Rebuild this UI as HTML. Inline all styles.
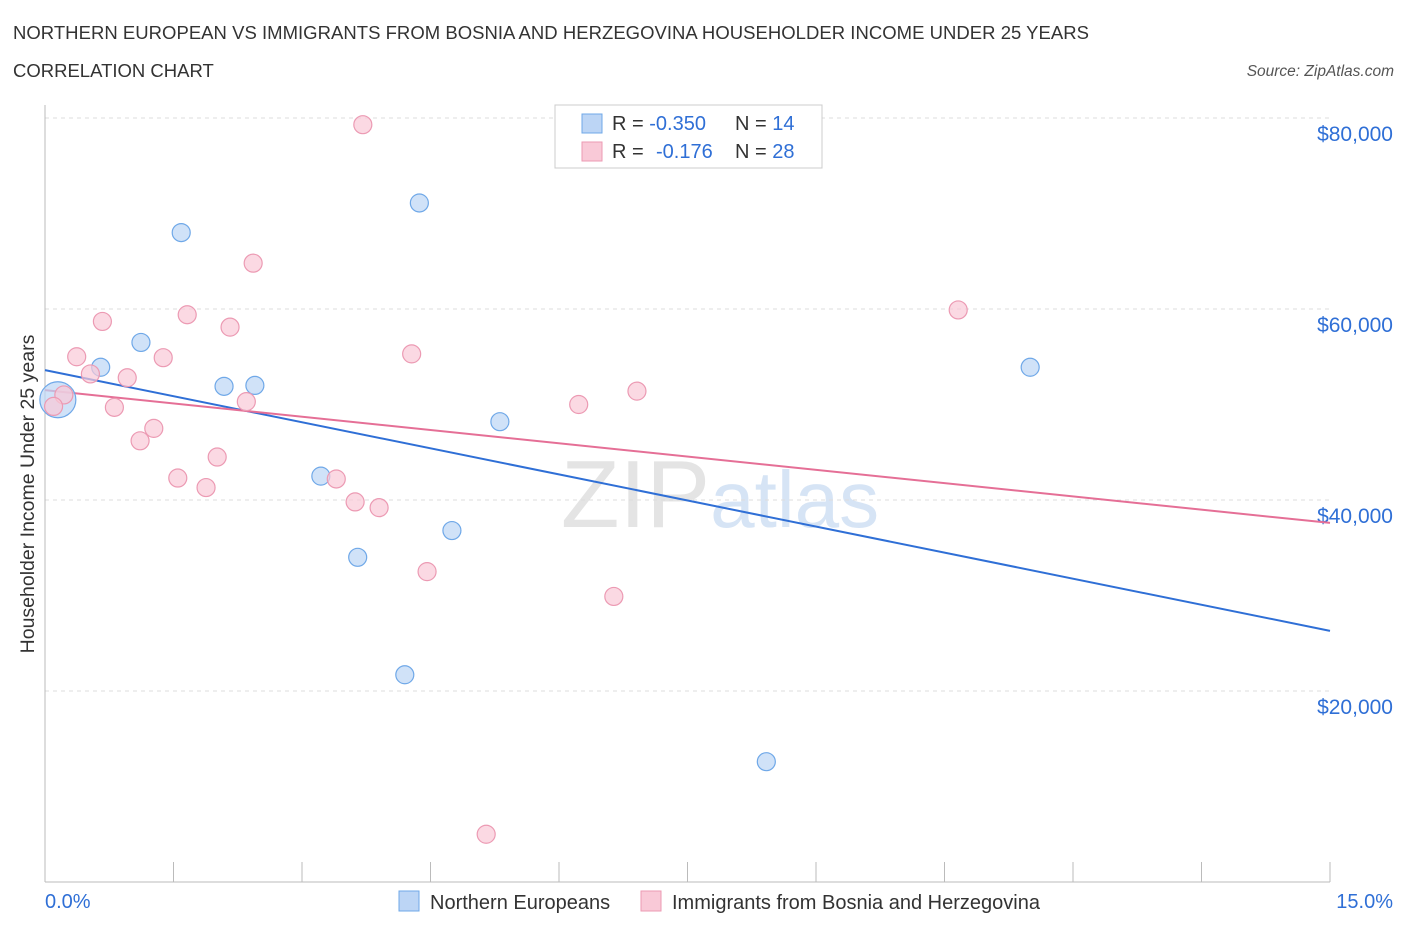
<!DOCTYPE html>
<html><head><meta charset="utf-8"><style>
body{margin:0;background:#fff;font-family:"Liberation Sans",sans-serif;}
svg text{font-family:"Liberation Sans",sans-serif;}
</style></head><body>
<svg id="chart" width="1406" height="930">
<text x="13" y="39" font-size="18.5" fill="#333" textLength="1076">NORTHERN EUROPEAN VS IMMIGRANTS FROM BOSNIA AND HERZEGOVINA HOUSEHOLDER INCOME UNDER 25 YEARS</text>
<text x="13" y="77" font-size="18.5" fill="#333">CORRELATION CHART</text>
<text x="1394" y="76" font-size="15.5" fill="#555" font-style="italic" text-anchor="end">Source: ZipAtlas.com</text>
<text x="720" y="527" font-size="96" fill="#e4e4e4" text-anchor="middle" font-family="Liberation Serif">ZIP<tspan fill="#d6e4f5" font-family="Liberation Sans" font-size="80">atlas</tspan></text>
<g id="grid"></g><g id="axes"></g><g id="lines"></g><g id="pts"></g>
<text transform="translate(34,494) rotate(-90)" font-size="19.5" fill="#333" text-anchor="middle">Householder Income Under 25 years</text>
<text x="45" y="908" font-size="20" fill="#2f6fd6">0.0%</text>
<text x="1393" y="908" font-size="20" fill="#2f6fd6" text-anchor="end">15.0%</text>
<g>
<rect x="555" y="105" width="267" height="63" fill="#fff" stroke="#ccc"/>
<rect x="582" y="114" width="20" height="19" fill="#bcd5f5" stroke="#6fa8e8"/>
<rect x="582" y="142" width="20" height="19" fill="#f9c9d7" stroke="#ec9ab3"/>
<text x="612" y="130" font-size="20" fill="#333">R = <tspan fill="#2f6fd6">-0.350</tspan><tspan x="735">N = </tspan><tspan fill="#2f6fd6">14</tspan></text>
<text x="612" y="158" font-size="20" fill="#333">R = <tspan x="656" fill="#2f6fd6">-0.176</tspan><tspan x="735">N = </tspan><tspan fill="#2f6fd6">28</tspan></text>
</g>
<g>
<rect x="399" y="891" width="20" height="20" fill="#bcd5f5" stroke="#6fa8e8"/>
<text x="430" y="909" font-size="20" fill="#333">Northern Europeans</text>
<rect x="641" y="891" width="20" height="20" fill="#f9c9d7" stroke="#ec9ab3"/>
<text x="672" y="909" font-size="20" fill="#333">Immigrants from Bosnia and Herzegovina</text>
</g>
</svg>
<script>
const yTicks=[20000,40000,60000,80000];
const yTickLabels=["$20,000","$40,000","$60,000","$80,000"];
const xTicks=[0,1.5,3,4.5,6,7.5,9,10.5,12,13.5,15];
const blueX=[0.15,0.65,1.12,1.59,2.09,2.45,3.22,3.65,4.20,4.37,4.75,5.31,8.42,11.50];
const blueY=[50500,53900,56500,68000,51900,52000,42500,34000,21700,71100,36800,48200,12600,53900];
const pinkX=[3.71,2.43,10.66,1.66,0.67,2.16,0.37,1.38,4.28,0.53,0.96,6.91,0.22,0.10,0.81,2.35,6.23,1.27,1.11,2.01,1.55,1.88,3.40,3.62,3.90,4.46,6.64,5.15];
const pinkY=[79300,64800,59900,59400,58700,58100,55000,54900,55300,53200,52800,51400,51000,49800,49700,50300,50000,47500,46200,44500,42300,41300,42200,39800,39200,32500,29900,5000];
const blueTrend=[53600,26300];
const pinkTrend=[51500,37600];
const NS="http://www.w3.org/2000/svg";
const X=v=>45+v*85.667, Y=v=>882-v*191/20000;
function mk(t,a,p){const e=document.createElementNS(NS,t);for(const k in a)e.setAttribute(k,a[k]);p.appendChild(e);return e;}
const grid=document.getElementById('grid'),axes=document.getElementById('axes'),lines=document.getElementById('lines'),pts=document.getElementById('pts');
yTicks.forEach((v,i)=>{
 const l=mk('line',{x1:45,x2:1330,y1:Y(v),y2:Y(v),stroke:'#ddd','stroke-dasharray':'4,4'},grid);
 
 
 const t=mk('text',{x:1393,y:Y(v)+23,'font-size':21,fill:'#2f6fd6','text-anchor':'end'},grid);
 t.textContent=yTickLabels[i];
 
 
});
mk('line',{x1:45,x2:45,y1:105,y2:882,stroke:'#bbb'},axes);
mk('line',{x1:45,x2:1330,y1:882,y2:882,stroke:'#bbb'},axes);
xTicks.forEach(v=>{const t=mk('line',{x1:X(v),x2:X(v),y1:862,y2:882,stroke:'#bbb'},axes);
 
 });
const bl=mk('line',{x1:X(0),y1:Y(blueTrend[0]),x2:X(15),y2:Y(blueTrend[1]),stroke:'#2f6fd6','stroke-width':2},lines);


const pl=mk('line',{x1:X(0),y1:Y(pinkTrend[0]),x2:X(15),y2:Y(pinkTrend[1]),stroke:'#e56f96','stroke-width':2},lines);


blueX.forEach((x,i)=>{const c=mk('circle',{cx:X(x),cy:Y(blueY[i]),r:i==0?18:9,fill:'#bcd5f5','fill-opacity':0.7,stroke:'#6fa8e8','stroke-width':1.2},pts);
 
 });
pinkX.forEach((x,i)=>{const c=mk('circle',{cx:X(x),cy:Y(pinkY[i]),r:9,fill:'#f9c9d7','fill-opacity':0.7,stroke:'#ec9ab3','stroke-width':1.2},pts);
 
 });
</script>
</body></html>
